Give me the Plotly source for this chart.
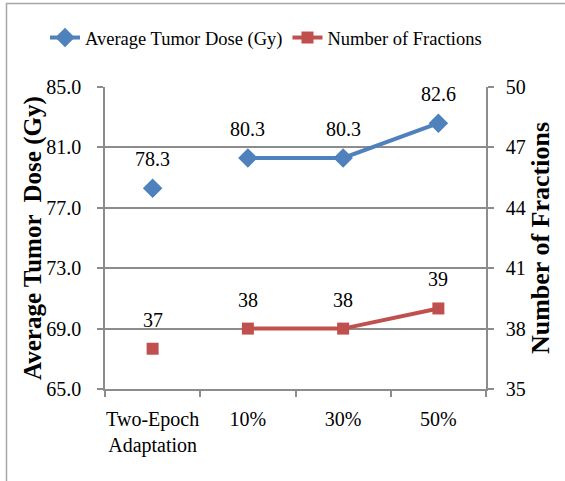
import plotly.graph_objects as go

categories = ["Two-Epoch<br>Adaptation", "10%", "30%", "50%"]
dose = [78.3, 80.3, 80.3, 82.6]
fractions = [37, 38, 38, 39]
dose_labels = ["78.3", "80.3", "80.3", "82.6"]
fraction_labels = ["37", "38", "38", "39"]
left_ticks = [65, 69, 73, 77, 81, 85]
right_ticks = [35, 38, 41, 44, 47, 50]

BLUE = "#4F81BD"
RED = "#C0504D"
GRID = "#8c8c8c"
FONT = "Liberation Serif"

W, H = 565, 481
ML, MR, MT, MB = 105, 79, 87, 92
PW = W - ML - MR
PH = H - MT - MB

fig = go.Figure()

# connected parts (first point isolated via gap)
xs = [categories[0], categories[0]] + categories[1:]
yd = [dose[0], None] + dose[1:]
yf = [fractions[0], None] + fractions[1:]

fig.add_trace(go.Scatter(
    x=xs, y=yd, mode="lines+markers", name="Average Tumor Dose (Gy)",
    line=dict(color=BLUE, width=4), connectgaps=False,
    marker=dict(symbol="diamond", size=15, color=BLUE), yaxis="y"))
fig.add_trace(go.Scatter(
    x=xs, y=yf, mode="lines+markers", name="Number of Fractions",
    line=dict(color=RED, width=4), connectgaps=False,
    marker=dict(symbol="square", size=12, color=RED), yaxis="y2"))

annotations = []
for c, v, t in zip(categories, dose, dose_labels):
    annotations.append(dict(x=c, y=v, xref="x", yref="y", text=t, showarrow=False,
                            yshift=29, font=dict(family=FONT, size=20, color="black")))
for c, v, t in zip(categories, fractions, fraction_labels):
    annotations.append(dict(x=c, y=v, xref="x", yref="y2", text=t, showarrow=False,
                            yshift=29, font=dict(family=FONT, size=20, color="black")))

# left axis title
annotations.append(dict(x=(33 - ML) / PW, y=0.5, xref="paper", yref="paper",
                        text="<b>Average Tumor  Dose (Gy)</b>", textangle=-90,
                        showarrow=False, xanchor="center", yanchor="middle",
                        font=dict(family=FONT, size=25, color="black")))

bx0 = (6.5 - ML) / PW
by1 = 1 + (MT - 3.5) / PH

fig.update_layout(
    width=W, height=H,
    margin=dict(l=ML, r=MR, t=MT, b=MB, autoexpand=False),
    paper_bgcolor="white", plot_bgcolor="white",
    font=dict(family=FONT, size=20, color="black"),
    showlegend=True,
    legend=dict(orientation="h", x=(45 - ML) / PW, xanchor="left",
                y=1 + (MT - 38) / PH, yanchor="middle",
                font=dict(family=FONT, size=18.5), itemwidth=30,
                bgcolor="rgba(0,0,0,0)", tracegroupgap=0),
    xaxis=dict(type="category", range=[-0.5, 3.5], tickson="boundaries",
               ticks="outside", ticklen=6, tickcolor=GRID, tickwidth=1.5,
               showline=True, linecolor=GRID, linewidth=1.5, showgrid=False,
               tickangle=0, ticklabelstandoff=11,
               tickfont=dict(family=FONT, size=20)),
    yaxis=dict(range=[65, 85], tickvals=left_ticks, tickformat=".1f",
               ticks="outside", ticklen=6, tickcolor=GRID, tickwidth=1.5,
               showline=True, linecolor=GRID, linewidth=1.5,
               showgrid=True, gridcolor=GRID, gridwidth=1.5, zeroline=False,
               ticklabelstandoff=12),
    yaxis2=dict(range=[35, 50], tickvals=right_ticks, overlaying="y", side="right",
                ticks="outside", ticklen=6, tickcolor=GRID, tickwidth=1.5,
                showline=True, linecolor=GRID, linewidth=1.5,
                showgrid=False, zeroline=False, ticklabelstandoff=8,
                title=dict(text="<b>Number of Fractions</b>", standoff=5,
                           font=dict(family=FONT, size=26))),
    annotations=annotations,
    shapes=[dict(type="rect", xref="paper", yref="paper", x0=bx0, x1=3, y0=-3, y1=by1,
                 line=dict(color="#a6a6a6", width=1.5), fillcolor="rgba(0,0,0,0)", layer="below")],
)

fig.write_html("out.html")
